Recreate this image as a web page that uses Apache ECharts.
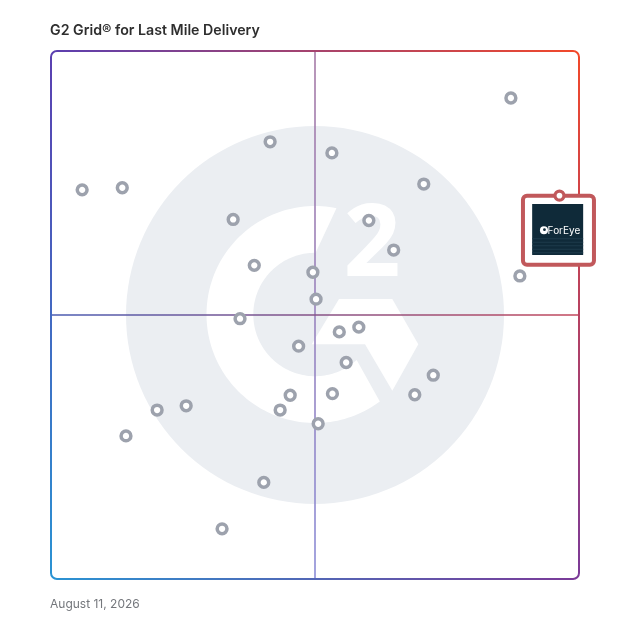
<!DOCTYPE html>
<html><head><meta charset="utf-8">
<script src="https://cdn.jsdelivr.net/npm/echarts@6/dist/echarts.min.js"></script>
<style>html,body{margin:0;padding:0;background:#fff}#c{width:628px;height:628px}</style>
</head><body><div id="c"></div>
<script>
// ---- data ----
const chartTitle = 'G2 Grid® for Last Mile Delivery';
const chartDate = 'August 11, 2026';
const productX = [87.1, 5.9, 13.5, 41.5, 53.2, 70.6, 34.5, 60.2, 64.9, 38.5, 49.6, 50.2, 88.8, 35.8, 54.6, 58.3, 46.9, 55.9, 72.4, 68.9, 53.3, 45.3, 43.4, 25.6, 20.1, 50.6, 40.3, 14.2, 32.4];
const productY = [91.1, 73.7, 74.1, 82.8, 80.7, 74.8, 68.1, 67.9, 62.3, 59.4, 58.1, 53.0, 57.4, 49.3, 46.8, 47.7, 44.1, 41.0, 38.6, 34.9, 35.1, 34.8, 32.0, 32.8, 32.0, 29.4, 18.3, 27.1, 9.5];
const highlightName = 'ForEye';
const highlightX = [96.3];
const highlightY = [72.6];
const axisMin = 0, axisMax = 100, axisMid = 50;

// ---- chart ----
const chart = echarts.init(document.getElementById('c'), null, {renderer: 'canvas'});
chart.setOption({
  animation: false,
  title: [
    {text: chartTitle, left: 50, top: 24, padding: 0, textStyle: {fontFamily: 'Inter', fontSize: 14.2, fontWeight: 600, color: '#2e2e2e'}},
    {text: chartDate, left: 50, top: 598, padding: 0, textStyle: {fontFamily: 'Inter', fontSize: 12, fontWeight: 400, color: '#74777c'}}
  ],
  grid: {left: 51, top: 51, width: 528, height: 528},
  xAxis: {type: 'value', min: axisMin, max: axisMax, show: false},
  yAxis: {type: 'value', min: axisMin, max: axisMax, show: false},
  series: [
    {name: 'Products', type: 'scatter', z: 10, silent: true,
     data: productX.map((x, i) => [x, productY[i]]),
     symbol: 'circle', symbolSize: 9.8,
     itemStyle: {color: '#ffffff', borderColor: '#9da2ad', borderWidth: 3.5, opacity: 1}},
    {name: highlightName, type: 'scatter', z: 12, silent: true,
     data: highlightX.map((x, i) => [x, highlightY[i]]),
     symbol: 'circle', symbolSize: 9,
     itemStyle: {color: '#ffffff', borderColor: '#c1585b', borderWidth: 3.2, opacity: 1}}
  ]
});

// ---- decoration (positions derived from the grid) ----
const px = (x, y) => chart.convertToPixel({gridIndex: 0}, [x, y]);
const [x0, y1] = px(axisMin, axisMin);
const [x1, y0] = px(axisMax, axisMax);
const [cx, cy] = px(axisMid, axisMid);
const s = (x1 - x0) / 528;
const G = (ax, ay, bx, by, c1, c2) => new echarts.graphic.LinearGradient(ax, ay, bx, by, [{offset: 0, color: c1}, {offset: 1, color: c2}], true);
const els = [];

// G2 watermark
els.push({type: 'circle', z: 0, silent: true, shape: {cx: cx, cy: cy, r: 189 * s}, style: {fill: '#ebeef2'}});
const ccy = cy - 0.5 * s;
const arc = (r, a0, a1, n) => {
  const out = [];
  for (let i = 0; i <= n; i++) {
    const a = (a0 + (a1 - a0) * i / n) * Math.PI / 180;
    out.push([cx + r * s * Math.cos(a), ccy + r * s * Math.sin(a)]);
  }
  return out;
};
const cPts = arc(108.5, -78.6, -306.7, 120).concat(arc(61.7, -312.5, -89.4, 120));
els.push({type: 'polygon', z: 1, silent: true, shape: {points: cPts}, style: {fill: '#ffffff'}});
const chev = [[24, -15.5], [77.3, -15.5], [103.3, 29.8], [77.3, 76.2], [50, 29.8], [-3.3, 29.8]]
  .map(q => [cx + q[0] * s, ccy + q[1] * s]);
els.push({type: 'polygon', z: 1, silent: true, shape: {points: chev}, style: {fill: '#ffffff'}});
els.push({type: 'text', z: 1, silent: true, x: cx + 57 * s, y: cy - 67 * s,
  style: {text: '2', fill: '#ffffff', fontFamily: 'Open Sans', fontWeight: 'bold', fontSize: 100 * s, align: 'center', verticalAlign: 'middle'}});

// quadrant lines
els.push({type: 'line', z: 2, silent: true, shape: {x1: cx, y1: y0, x2: cx, y2: y1},
  style: {stroke: G(cx, y0, cx, y1, '#a67aa6', '#8b8cd6'), lineWidth: 1.6}});
els.push({type: 'line', z: 2, silent: true, shape: {x1: x0, y1: cy, x2: x1, y2: cy},
  style: {stroke: G(x0, cy, x1, cy, '#4a5cb2', '#c2485c'), lineWidth: 1.6}});

// border
const r = 6, bw = 2;
const cTL = '#5b3fb0', cTR = '#f2482a', cBL = '#2a93d3', cBR = '#7b3a98';
els.push({type: 'line', z: 2, silent: true, shape: {x1: x0 + r, y1: y0, x2: x1 - r, y2: y0}, style: {stroke: G(x0, y0, x1, y0, cTL, cTR), lineWidth: bw}});
els.push({type: 'line', z: 2, silent: true, shape: {x1: x1, y1: y0 + r, x2: x1, y2: y1 - r}, style: {stroke: G(x1, y0, x1, y1, cTR, cBR), lineWidth: bw}});
els.push({type: 'line', z: 2, silent: true, shape: {x1: x0 + r, y1: y1, x2: x1 - r, y2: y1}, style: {stroke: G(x0, y1, x1, y1, cBL, cBR), lineWidth: bw}});
els.push({type: 'line', z: 2, silent: true, shape: {x1: x0, y1: y0 + r, x2: x0, y2: y1 - r}, style: {stroke: G(x0, y0, x0, y1, cTL, cBL), lineWidth: bw}});
const P = Math.PI;
[[x0 + r, y0 + r, P, 1.5 * P, cTL], [x1 - r, y0 + r, 1.5 * P, 2 * P, cTR], [x1 - r, y1 - r, 0, 0.5 * P, cBR], [x0 + r, y1 - r, 0.5 * P, P, cBL]]
  .forEach(a => els.push({type: 'arc', z: 2, silent: true, shape: {cx: a[0], cy: a[1], r: r, startAngle: a[2], endAngle: a[3], clockwise: true}, style: {stroke: a[4], lineWidth: bw, fill: null}}));

// highlighted product label card
const [hx, hy] = px(highlightX[0], highlightY[0]);
els.push({type: 'rect', z: 6, silent: true, shape: {x: hx - 36.5, y: hy, width: 71, height: 69, r: 4}, style: {fill: '#ffffff', stroke: '#c1585b', lineWidth: 4}});
els.push({type: 'rect', z: 7, silent: true, shape: {x: hx - 27.3, y: hy + 8.3, width: 51, height: 51}, style: {fill: '#0f2a39'}});
[0, 3.5, 7, 10.5, 14].forEach(d => els.push({type: 'rect', z: 7, silent: true, shape: {x: hx - 27.3, y: hy + 42.5 + d, width: 51, height: 1.2}, style: {fill: '#1e3b4b'}}));
els.push({type: 'circle', z: 8, silent: true, shape: {cx: hx - 15.5, cy: hy + 34.5, r: 4}, style: {fill: '#ffffff'}});
els.push({type: 'circle', z: 8, silent: true, shape: {cx: hx - 15, cy: hy + 34, r: 1.4}, style: {fill: '#0f2a39'}});
els.push({type: 'text', z: 8, silent: true, x: hx + 4.5, y: hy + 35.5,
  style: {text: highlightName, fill: '#ffffff', fontFamily: 'Inter', fontSize: 10, align: 'center', verticalAlign: 'middle'}});

chart.setOption({graphic: {elements: els}});
</script>
</body></html>
